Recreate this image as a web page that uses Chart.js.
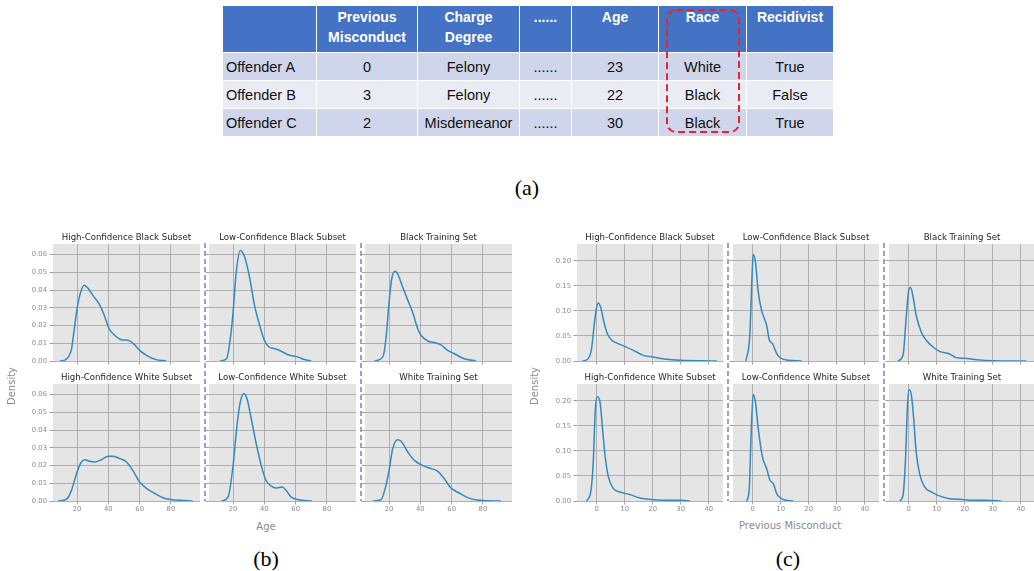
<!DOCTYPE html>
<html lang="en">
<head>
    <meta charset="UTF-8">
    <title>Offender table and density plots</title>
    <style>
        * { margin: 0; padding: 0; box-sizing: border-box; }
        body { width: 1034px; height: 571px; background: #fff; position: relative; overflow: hidden; }

        #tbl {
            position: absolute; left: 222px; top: 5px; width: 611px;
            border-collapse: collapse; table-layout: fixed;
            font-family: 'Liberation Sans', Arial, sans-serif; font-size: 14px; color: #111;
        }
        #tbl th, #tbl td { border: 1.5px solid #fff; text-align: center; }
        #tbl th {
            background: #4472c4; color: #fff; font-weight: bold;
            vertical-align: top; line-height: 20px; padding-top: 1px; height: 47px;
        }
        #tbl td { height: 28px; vertical-align: middle; font-size: 14.5px; }
        #tbl td.name { text-align: left; padding-left: 3px; }
        #tbl tr.odd td { background: #cfd5ea; }
        #tbl tr.even td { background: #e9ebf5; }
        #raceBox { position: absolute; left: 665px; top: 9px; }

        .cap { position: absolute; font-family: 'Liberation Serif', 'Times New Roman', serif; font-size: 22px; color: #000; width: 40px; text-align: center; line-height: 24px; }
        .ptitle { position: absolute; font-family: 'DejaVu Sans', sans-serif; font-size: 8.6px; color: #262626; text-align: center; line-height: 10px; white-space: nowrap; }
        .axlabel { position: absolute; font-family: 'DejaVu Sans', sans-serif; font-size: 10px; color: #8a8a8a; text-align: center; line-height: 12px; white-space: nowrap; }
        .vdash {
            position: absolute; width: 2px; z-index: 2;
            background: repeating-linear-gradient(to bottom, #a497e4 0 5px, transparent 5px 8px);
        }
        canvas { position: absolute; }
    </style>
    <script src="https://cdn.jsdelivr.net/npm/chart.js@4"></script>
</head>
<body>
    <table id="tbl">
        <colgroup>
            <col style="width:94px"><col style="width:101px"><col style="width:102px"><col style="width:52px">
            <col style="width:87px"><col style="width:88px"><col style="width:87px">
        </colgroup>
        <tr><th></th><th>Previous<br>Misconduct</th><th>Charge<br>Degree</th><th>......</th><th>Age</th><th>Race</th><th>Recidivist</th></tr>
        <tr class="odd"><td class="name">Offender A</td><td>0</td><td>Felony</td><td>......</td><td>23</td><td>White</td><td>True</td></tr>
        <tr class="even"><td class="name">Offender B</td><td>3</td><td>Felony</td><td>......</td><td>22</td><td>Black</td><td>False</td></tr>
        <tr class="odd"><td class="name">Offender C</td><td>2</td><td>Misdemeanor</td><td>......</td><td>30</td><td>Black</td><td>True</td></tr>
    </table>
    <svg id="raceBox" width="76" height="126">
        <rect x="2" y="1" width="72" height="122" rx="9" ry="9" fill="none" stroke="#e8242b" stroke-width="2" stroke-dasharray="7 4"/>
    </svg>

    <div class="cap" style="left:507px; top:176px;">(a)</div>
    <div class="cap" style="left:246px; top:547px;">(b)</div>
    <div class="cap" style="left:768px; top:547px;">(c)</div>

    <div id="panels"></div>

    <script>
        // ---- data ----
        const ageTicks = [20, 40, 60, 80];
        const ageDensityTicks = [0, 0.01, 0.02, 0.03, 0.04, 0.05, 0.06];
        const miscTicks = [0, 10, 20, 30, 40];
        const miscDensityTicks = [0, 0.05, 0.10, 0.15, 0.20];

        const ageTitles = ['High-Confidence Black Subset', 'Low-Confidence Black Subset', 'Black Training Set',
                           'High-Confidence White Subset', 'Low-Confidence White Subset', 'White Training Set'];
        const miscTitles = ageTitles;

        // Age densities
        const ageHcBlackX = [9, 13, 16.5, 17.4, 20, 21.7, 24.5, 27, 30.3, 34, 37, 40.5, 44, 48.4, 52.7, 56, 60, 64.4, 70, 77];
        const ageHcBlackY = [0, 0.001, 0.007, 0.0126, 0.0295, 0.037, 0.0427, 0.041, 0.0367, 0.0323, 0.0267, 0.0182, 0.0145, 0.012, 0.0117, 0.0098, 0.006, 0.0032, 0.0009, 0];
        const ageLcBlackX = [11.5, 15.8, 18.5, 20, 22, 24.6, 27.4, 30.5, 33.7, 37, 40, 43, 47.4, 51.6, 56, 60, 62.5, 65.6, 70];
        const ageLcBlackY = [0, 0.0013, 0.0145, 0.0276, 0.05, 0.0624, 0.0587, 0.0474, 0.0314, 0.0201, 0.0117, 0.0079, 0.0068, 0.0051, 0.0032, 0.0026, 0.0019, 0.0008, 0];
        const ageTrBlackX = [10.6, 16, 18, 20, 21.7, 23.8, 25.5, 28.7, 32, 35, 38.3, 40.4, 44.7, 50, 53, 57.4, 61.7, 68, 75.5];
        const ageTrBlackY = [0, 0.0023, 0.0126, 0.0333, 0.0464, 0.0506, 0.0492, 0.0417, 0.0342, 0.0276, 0.0182, 0.0145, 0.0113, 0.0102, 0.0092, 0.006, 0.0041, 0.0013, 0];
        const ageHcWhiteX = [7.8, 13.2, 16.4, 20, 22.8, 24.9, 28, 31.3, 35.6, 40, 43, 47.4, 51.6, 56, 60, 64.6, 70, 75.3, 80, 85.8, 94];
        const ageHcWhiteY = [0, 0.001, 0.006, 0.0164, 0.022, 0.0233, 0.0224, 0.022, 0.0233, 0.0252, 0.0252, 0.0239, 0.022, 0.0167, 0.0107, 0.007, 0.0041, 0.0017, 0.0009, 0.0004, 0];
        const ageLcWhiteX = [12.5, 16.8, 20, 22.5, 24.6, 26.8, 28.9, 31.6, 34.8, 38, 41, 44.3, 47.4, 51.3, 53.9, 57, 61.4, 70.5];
        const ageLcWhiteY = [0, 0.0023, 0.0201, 0.0427, 0.0558, 0.0605, 0.0577, 0.0464, 0.0323, 0.0201, 0.0117, 0.0085, 0.0073, 0.0079, 0.006, 0.0023, 0.0008, 0];
        const ageTrWhiteX = [9.6, 14.9, 18, 20, 22.3, 25.5, 27.7, 32, 36.2, 40.4, 45.7, 51, 55.3, 59.6, 64.9, 70.2, 77.7, 91.5];
        const ageTrWhiteY = [0, 0.0008, 0.0088, 0.0173, 0.0295, 0.0346, 0.0337, 0.0276, 0.0229, 0.0205, 0.0186, 0.0169, 0.0126, 0.0073, 0.0045, 0.0019, 0.0004, 0];

        // Previous misconduct densities
        const miscHcBlackX = [-5, -3, -1.8, -1, -0.2, 0.6, 1.4, 2.6, 3.8, 5.4, 7.7, 10, 13.1, 16.7, 20, 25, 30, 36.9, 42.9];
        const miscHcBlackY = [0, 0.0047, 0.0247, 0.0647, 0.101, 0.116, 0.108, 0.078, 0.0547, 0.0413, 0.0347, 0.0293, 0.0213, 0.0113, 0.008, 0.0033, 0.0013, 0.0003, 0];
        const miscLcBlackX = [-2.4, -1, -0.2, 0.2, 1, 2, 3.2, 5, 6, 7.1, 8.6, 10, 12.1, 17.5];
        const miscLcBlackY = [0, 0.0513, 0.171, 0.2127, 0.198, 0.138, 0.101, 0.0713, 0.0413, 0.0347, 0.0147, 0.006, 0.002, 0];
        const miscTrBlackX = [-3.8, -2, -0.8, 0.1, 0.7, 1.5, 2.7, 4.5, 6.3, 8.7, 11, 14.6, 17, 20, 24.2, 30.1, 42];
        const miscTrBlackY = [0, 0.0113, 0.0913, 0.1427, 0.1467, 0.131, 0.0913, 0.058, 0.0413, 0.028, 0.0193, 0.014, 0.0067, 0.0053, 0.0027, 0.0007, 0];
        const miscHcWhiteX = [-3.6, -2.1, -1.2, -0.5, 0.2, 1.2, 2.1, 3, 4.2, 6, 8.3, 11.9, 15.5, 20.2, 26.2, 29.8, 33.3];
        const miscHcWhiteY = [0, 0.018, 0.078, 0.178, 0.208, 0.198, 0.145, 0.0913, 0.048, 0.0247, 0.018, 0.0127, 0.006, 0.0027, 0.0013, 0.0013, 0];
        const miscLcWhiteX = [-2.1, -1.2, -0.5, 0.2, 1, 2, 3.5, 5, 6.2, 7.4, 8.6, 10, 11.5, 14.5];
        const miscLcWhiteY = [0, 0.0247, 0.138, 0.2127, 0.198, 0.145, 0.088, 0.0647, 0.0413, 0.0347, 0.0147, 0.006, 0.002, 0];
        const miscTrWhiteX = [-3.2, -2, -1.1, -0.4, 0.2, 1, 1.8, 2.7, 3.9, 5.7, 8.1, 10.5, 14.6, 18.2, 23, 27.7, 33.1];
        const miscTrWhiteY = [0, 0.0113, 0.0847, 0.191, 0.2227, 0.211, 0.165, 0.098, 0.0547, 0.028, 0.018, 0.0113, 0.0047, 0.0033, 0.0013, 0.0013, 0];

        // ---- layout ----
        const rowTops = [244, 384];
        const plotH = 117;
        const tickFont = { family: 'DejaVu Sans', size: 6.8 };

        const panelBg = {
            id: 'panelBg',
            beforeDraw(chart) {
                const { ctx, chartArea: a } = chart;
                ctx.save();
                ctx.fillStyle = '#e5e5e5';
                ctx.fillRect(a.left, a.top, a.right - a.left, a.bottom - a.top);
                ctx.restore();
            }
        };

        const holder = document.getElementById('panels');

        function addDiv(cls, text, style) {
            const d = document.createElement('div');
            d.className = cls;
            d.textContent = text;
            Object.assign(d.style, style);
            holder.appendChild(d);
            return d;
        }

        function makePanel(p) {
            const padT = 3, padR = 3;
            const padB = p.row === 1 ? 16 : 6;
            const padL = p.canvasLeft != null ? p.left - p.canvasLeft : 6;
            const top = rowTops[p.row];

            const cv = document.createElement('canvas');
            cv.width = p.w + padL + padR;
            cv.height = plotH + padT + padB;
            cv.style.left = (p.left - padL) + 'px';
            cv.style.top = (top - padT) + 'px';
            holder.appendChild(cv);

            addDiv('ptitle', p.title, { left: p.left + 'px', width: p.w + 'px', top: (top - 12) + 'px' });

            new Chart(cv.getContext('2d'), {
                type: 'line',
                data: {
                    datasets: [{
                        data: p.xs.map((x, i) => ({ x: x, y: p.ys[i] })),
                        borderColor: '#348abd',
                        borderWidth: 1.5,
                        pointRadius: 0,
                        cubicInterpolationMode: 'monotone',
                        fill: false
                    }]
                },
                options: {
                    responsive: false,
                    animation: false,
                    devicePixelRatio: 1,
                    layout: { padding: { top: padT, right: padR, left: 0, bottom: 0 } },
                    plugins: { legend: { display: false }, tooltip: { enabled: false } },
                    scales: {
                        x: {
                            type: 'linear', min: p.xMin, max: p.xMax,
                            afterBuildTicks: s => { s.ticks = p.xTicks.map(v => ({ value: v })); },
                            afterFit: s => { s.height = padB; s.paddingLeft = 0; s.paddingRight = 0; },
                            grid: { color: '#b0b0b0', lineWidth: 1, tickLength: 3.5, tickColor: '#a0a0a0' },
                            border: { display: false },
                            ticks: {
                                autoSkip: false, maxRotation: 0, padding: 1,
                                font: tickFont, color: '#8c8c8c',
                                callback: v => p.row === 1 ? String(v) : ''
                            }
                        },
                        y: {
                            min: 0, max: p.yMax,
                            afterBuildTicks: s => { s.ticks = p.yTicks.map(v => ({ value: v })); },
                            afterFit: s => { s.width = padL; s.paddingTop = 0; s.paddingBottom = 0; },
                            grid: { color: '#b0b0b0', lineWidth: 1, tickLength: 3.5, tickColor: '#a0a0a0' },
                            border: { display: false },
                            ticks: {
                                autoSkip: false, padding: 2.5,
                                font: tickFont, color: '#8c8c8c',
                                callback: v => p.col === 0 ? v.toFixed(2) : ''
                            }
                        }
                    }
                },
                plugins: [panelBg]
            });
        }

        // (b) Age group
        const ageLefts = [53, 209, 365];
        const ageSeries = [[ageHcBlackX, ageHcBlackY], [ageLcBlackX, ageLcBlackY], [ageTrBlackX, ageTrBlackY],
                           [ageHcWhiteX, ageHcWhiteY], [ageLcWhiteX, ageLcWhiteY], [ageTrWhiteX, ageTrWhiteY]];
        ageSeries.forEach((s, i) => {
            const row = Math.floor(i / 3), col = i % 3;
            makePanel({
                row: row, col: col, left: ageLefts[col], w: 147, canvasLeft: col === 0 ? 0 : null,
                xs: s[0], ys: s[1], title: ageTitles[i],
                xMin: 4.6, xMax: 98.6, xTicks: ageTicks, yMax: 0.066, yTicks: ageDensityTicks
            });
        });

        // (c) Previous misconduct group
        const miscLefts = [577, 733, 889];
        const miscSeries = [[miscHcBlackX, miscHcBlackY], [miscLcBlackX, miscLcBlackY], [miscTrBlackX, miscTrBlackY],
                            [miscHcWhiteX, miscHcWhiteY], [miscLcWhiteX, miscLcWhiteY], [miscTrWhiteX, miscTrWhiteY]];
        miscSeries.forEach((s, i) => {
            const row = Math.floor(i / 3), col = i % 3;
            makePanel({
                row: row, col: col, left: miscLefts[col], w: 146, canvasLeft: col === 0 ? 520 : null,
                xs: s[0], ys: s[1], title: miscTitles[i],
                xMin: -7, xMax: 45.1, xTicks: miscTicks, yMax: 0.2335, yTicks: miscDensityTicks
            });
        });

        // dashed separators between columns
        [204, 360, 727, 883].forEach(x => {
            const d = document.createElement('div');
            d.className = 'vdash';
            Object.assign(d.style, { left: x + 'px', top: '243px', height: '258px' });
            holder.appendChild(d);
        });

        // axis labels
        addDiv('axlabel', 'Density', { left: '-18px', top: '380px', width: '60px', transform: 'rotate(-90deg)' });
        addDiv('axlabel', 'Density', { left: '505px', top: '380px', width: '60px', transform: 'rotate(-90deg)' });
        addDiv('axlabel', 'Age', { left: '216px', top: '521px', width: '100px' });
        addDiv('axlabel', 'Previous Misconduct', { left: '730px', top: '520px', width: '120px' });
    </script>
</body>
</html>
